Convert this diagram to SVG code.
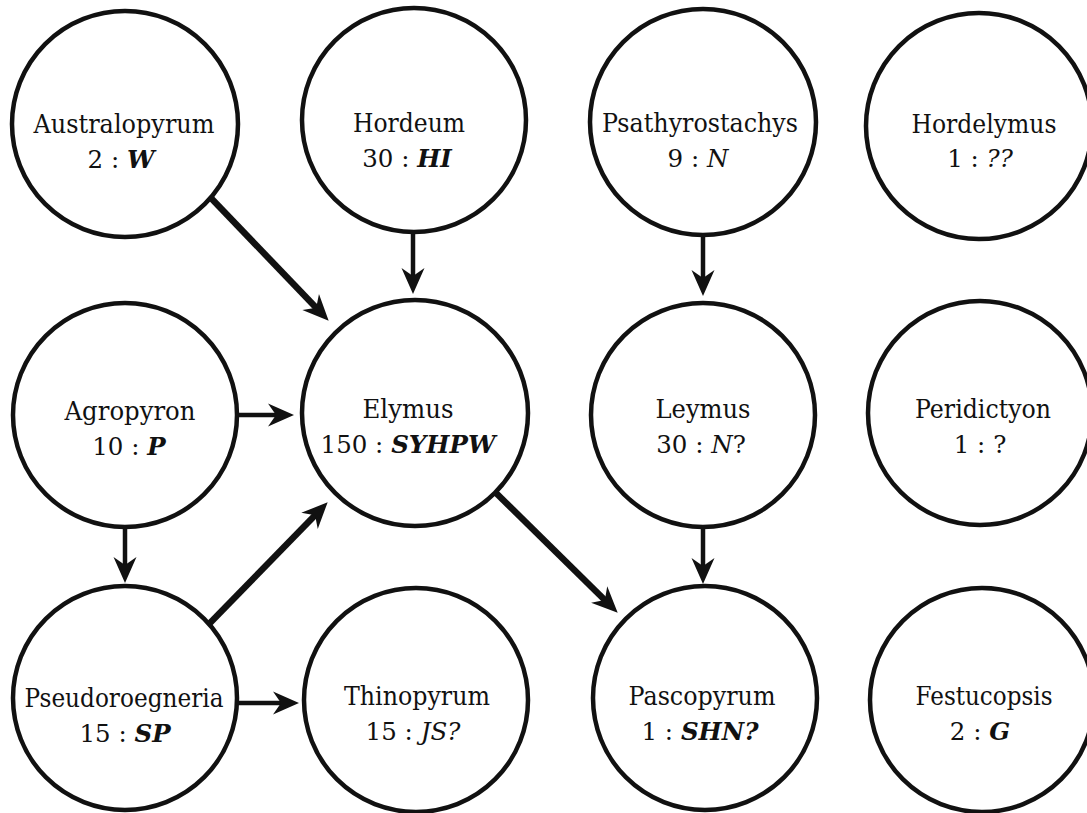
<svg xmlns="http://www.w3.org/2000/svg" width="1087" height="813" viewBox="0 0 1087 813">
<style>
.n circle{fill:#fff;stroke:#111;stroke-width:4.5}
.n text{font-family:'DejaVu Serif',serif;font-size:26px;fill:#111;text-anchor:middle}
.n text.g{font-size:24.5px}
.bi{font-style:italic;font-weight:bold}
.i{font-style:italic}
.c line{stroke:#111;stroke-width:4.5;marker-end:url(#ah)}
.c line.d{stroke-width:6.5}
</style>
<defs>
<marker id="ah" markerUnits="userSpaceOnUse" markerWidth="32" markerHeight="32" viewBox="0 0 32 30" refX="15" refY="15" orient="auto">
<path d="M31 15 L5 3.5 L13 15 L5 26.5 Z" fill="#111"/>
</marker>
</defs>
<rect width="1087" height="813" fill="#fff"/>
<g class="c" id="connectors">
<line class="d" x1="210" y1="197" x2="317.6" y2="309.2"/>
<line x1="413" y1="233" x2="413" y2="278"/>
<line x1="703" y1="235" x2="703" y2="280"/>
<line x1="238" y1="415" x2="278" y2="415"/>
<line x1="125" y1="528" x2="125" y2="567"/>
<line class="d" x1="210" y1="623" x2="316.5" y2="513.7"/>
<line x1="238" y1="703" x2="283" y2="703"/>
<line class="d" x1="493" y1="490" x2="606.3" y2="601.5"/>
<line x1="703" y1="528" x2="703" y2="568"/>
</g>
<g class="n" id="australopyrum"><circle cx="125" cy="124" r="113"/><text x="124" y="133" textLength="181" lengthAdjust="spacingAndGlyphs">Australopyrum</text><text class="g" x="121" y="168">2 : <tspan class="bi">W</tspan></text></g>
<g class="n" id="hordeum"><circle cx="414" cy="120" r="112"/><text x="409" y="132" textLength="112" lengthAdjust="spacingAndGlyphs">Hordeum</text><text class="g" x="407" y="167">30 : <tspan class="bi">HI</tspan></text></g>
<g class="n" id="psathyrostachys"><circle cx="703" cy="122" r="113"/><text x="700" y="132" textLength="196" lengthAdjust="spacingAndGlyphs">Psathyrostachys</text><text class="g" x="698" y="167">9 : <tspan class="i">N</tspan></text></g>
<g class="n" id="hordelymus"><circle cx="979" cy="126" r="113"/><text x="984" y="133" textLength="145" lengthAdjust="spacingAndGlyphs">Hordelymus</text><text class="g" x="980" y="167">1 : <tspan class="i">??</tspan></text></g>
<g class="n" id="agropyron"><circle cx="125" cy="415" r="112"/><text x="130" y="420" textLength="131" lengthAdjust="spacingAndGlyphs">Agropyron</text><text class="g" x="129" y="455">10 : <tspan class="bi">P</tspan></text></g>
<g class="n" id="elymus"><circle cx="415" cy="413" r="113"/><text x="408" y="418" textLength="91" lengthAdjust="spacingAndGlyphs">Elymus</text><text class="g" x="408" y="453">150 : <tspan class="bi">SYHPW</tspan></text></g>
<g class="n" id="leymus"><circle cx="703" cy="415" r="112"/><text x="703" y="418" textLength="95" lengthAdjust="spacingAndGlyphs">Leymus</text><text class="g" x="701" y="453">30 : <tspan class="i">N</tspan>?</text></g>
<g class="n" id="peridictyon"><circle cx="980" cy="413" r="112"/><text x="983" y="418" textLength="136" lengthAdjust="spacingAndGlyphs">Peridictyon</text><text class="g" x="980" y="453">1 : ?</text></g>
<g class="n" id="pseudoroegneria"><circle cx="125" cy="698" r="112"/><text x="124" y="707" textLength="199" lengthAdjust="spacingAndGlyphs">Pseudoroegneria</text><text class="g" x="125" y="742">15 : <tspan class="bi">SP</tspan></text></g>
<g class="n" id="thinopyrum"><circle cx="416" cy="700" r="112"/><text x="417" y="705" textLength="146" lengthAdjust="spacingAndGlyphs">Thinopyrum</text><text class="g" x="413" y="740">15 : <tspan class="i">JS?</tspan></text></g>
<g class="n" id="pascopyrum"><circle cx="705" cy="698" r="112"/><text x="702" y="705" textLength="147" lengthAdjust="spacingAndGlyphs">Pascopyrum</text><text class="g" x="700" y="740">1 : <tspan class="bi">SHN?</tspan></text></g>
<g class="n" id="festucopsis"><circle cx="982" cy="700" r="112"/><text x="984" y="705" textLength="137" lengthAdjust="spacingAndGlyphs">Festucopsis</text><text class="g" x="980" y="740">2 : <tspan class="bi">G</tspan></text></g>
</svg>
